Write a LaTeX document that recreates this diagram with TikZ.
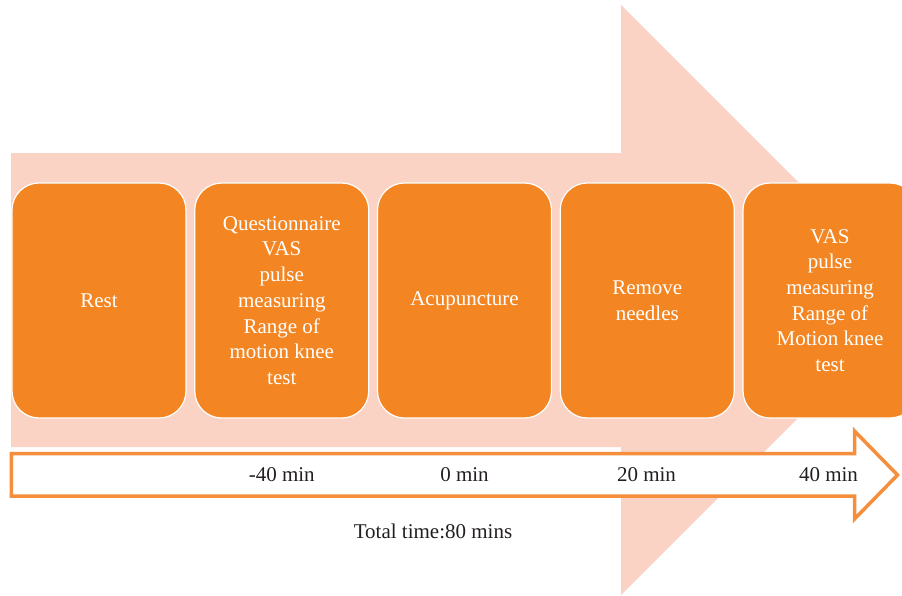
\documentclass[tikz,border=0pt]{standalone}
\usepackage{fontspec}
\setmainfont{Liberation Serif}
\definecolor{peach}{HTML}{FBD3C5}
\definecolor{boxorange}{HTML}{F38622}
\definecolor{lineorange}{HTML}{F58F3E}
\definecolor{darktext}{HTML}{231F20}
\begin{document}
\begin{tikzpicture}[x=1pt,y=-1pt,
  stepbox/.style={draw=white, line width=1.2pt, fill=boxorange, rounded corners=27pt,
    minimum width=174pt, minimum height=235pt, inner sep=0pt, anchor=center,
    text=white, align=center, font=\fontsize{21}{25.7}\selectfont},
  timelabel/.style={text=darktext, inner sep=0pt, font=\fontsize{21}{24}\selectfont}]
\useasboundingbox (0,0) rectangle (902,595);
\begin{scope}
\clip (0,0) rectangle (902,595);
\fill[peach] (11,153) -- (621,153) -- (621,5) -- (916,300) -- (621,595) -- (621,447) -- (11,447) -- cycle;
\node[stepbox] (b1) at (99,300.5) {Rest};
\node[stepbox] (b2) at (281.75,300.5) {Questionnaire\\VAS\\pulse\\measuring\\Range of\\motion knee\\test};
\node[stepbox] (b3) at (464.5,300.5) {Acupuncture};
\node[stepbox] (b4) at (647.25,300.5) {Remove\\needles};
\node[stepbox] (b5) at (830,300.5) {VAS\\pulse\\measuring\\Range of\\Motion knee\\test};
\draw[lineorange, line width=3.5pt, fill=white, miter limit=10]
  (11.3,453.5) -- (854.5,453.5) -- (854.5,431) -- (897.5,475) -- (854.5,519) -- (854.5,496) -- (11.3,496) -- cycle;
\end{scope}
\node[timelabel] (t1) at (281.75,475) {-40 min};
\node[timelabel] (t2) at (464.5,475) {0 min};
\node[timelabel] (t3) at (646.5,475) {20 min};
\node[timelabel] (t4) at (828.5,475) {40 min};
\node[timelabel] (tot) at (433,531) {Total time:80 mins};
\end{tikzpicture}
\end{document}
